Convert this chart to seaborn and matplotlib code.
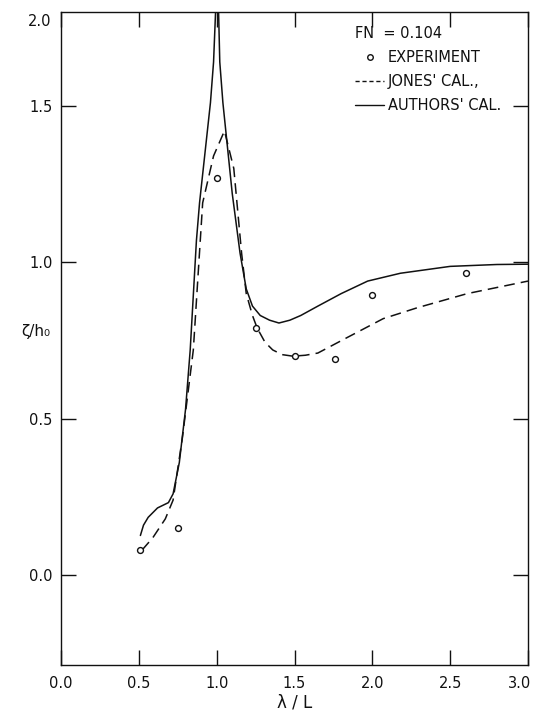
import matplotlib
matplotlib.use("Agg")
import matplotlib.pyplot as plt
import matplotlib.transforms as mtransforms
from matplotlib.lines import Line2D
import seaborn as sns

# Values (FN = 0.104)
# Authors' calculation (solid line)
authors_x = [0.51, 0.53, 0.56, 0.62, 0.69, 0.72, 0.76, 0.80, 0.83, 0.87, 0.89, 0.96, 0.98,
             1.005, 1.02, 1.04, 1.10, 1.15, 1.19, 1.23, 1.28, 1.34, 1.40, 1.47, 1.54, 1.65,
             1.80, 1.97, 2.18, 2.50, 2.80, 3.00]
authors_y = [0.127, 0.16, 0.185, 0.215, 0.232, 0.26, 0.36, 0.53, 0.72, 1.07, 1.19, 1.51,
             1.64, 1.95, 1.64, 1.51, 1.22, 1.03, 0.915, 0.86, 0.83, 0.815, 0.806, 0.815,
             0.83, 0.86, 0.90, 0.94, 0.965, 0.987, 0.993, 0.994]

# Jones' calculation (dashed line)
jones_x = [0.52, 0.59, 0.67, 0.72, 0.78, 0.85, 0.91, 0.98, 1.05, 1.11, 1.16, 1.19, 1.23,
           1.26, 1.31, 1.36, 1.42, 1.49, 1.57, 1.65, 1.84, 2.07, 2.29, 2.61, 3.00]
jones_y = [0.08, 0.12, 0.18, 0.24, 0.44, 0.72, 1.19, 1.34, 1.42, 1.30, 1.03, 0.90, 0.83,
           0.79, 0.745, 0.72, 0.705, 0.70, 0.703, 0.71, 0.76, 0.82, 0.855, 0.90, 0.94]

# Experiment
exp_x = [0.51, 0.75, 1.00, 1.25, 1.50, 1.76, 2.00, 2.60]
exp_y = [0.08, 0.15, 1.27, 0.79, 0.70, 0.69, 0.895, 0.965]

x_ticks = [0.0, 0.5, 1.0, 1.5, 2.0, 2.5, 3.0]
x_ticklabels = ['0.0', '0.5', '1.0', '1.5', '2.0', '2.5', '3.0']
y_ticks = [0.0, 0.5, 1.0, 1.5]
y_ticklabels = ['0.0', '0.5', '1.0', '1.5']

ink = '#111111'

sns.set_theme(style="ticks")
plt.rcParams['font.family'] = ['DejaVu Sans']
plt.rcParams['text.color'] = ink
plt.rcParams['axes.labelcolor'] = ink
plt.rcParams['xtick.color'] = ink
plt.rcParams['ytick.color'] = ink

fig = plt.figure(figsize=(5.38, 7.18), dpi=100)
ax = fig.add_axes([0.1134, 0.0738, 0.868, 0.9095])

sns.lineplot(x=authors_x, y=authors_y, sort=False, estimator=None, color=ink,
             linewidth=1.1, ax=ax)
sns.lineplot(x=jones_x, y=jones_y, sort=False, estimator=None, color=ink,
             linewidth=1.1, linestyle=(0, (7, 4)), ax=ax)
sns.scatterplot(x=exp_x, y=exp_y, marker='o', s=18, facecolor='white',
                edgecolor=ink, linewidth=1.0, ax=ax, zorder=5)

ax.set_xlim(0.0, 3.0)
ax.set_ylim(-0.287, 1.80)
ax.set_xticks(x_ticks)
ax.set_xticklabels(x_ticklabels)
ax.set_yticks(y_ticks)
ax.set_yticklabels(y_ticklabels)
ax.tick_params(direction='in', length=11, width=1, top=True, right=True, labelsize=10.5)
ax.tick_params(axis='x', pad=8)
ax.tick_params(axis='y', pad=6)
# last x label sits tight against the page edge in the scan
last = ax.get_xticklabels()[-1]
last.set_transform(last.get_transform() +
                   mtransforms.ScaledTranslation(-6 / 72, 0, fig.dpi_scale_trans))
# top-left corner label of the scan
ax.text(-0.02, 0.985, '2.0', transform=ax.transAxes, ha='right', va='center', fontsize=10.5)

for side in ax.spines.values():
    side.set_color(ink)
    side.set_linewidth(1.0)

ax.set_xlabel('λ / L', fontsize=12, labelpad=2)
ax.set_ylabel('ζ/h₀', fontsize=11, rotation=0)
ax.yaxis.set_label_coords(-0.055, 0.50)

handles = [
    Line2D([], [], linestyle='none', marker='o', markersize=4, markerfacecolor='white',
           markeredgecolor=ink),
    Line2D([], [], color=ink, linewidth=1.0, linestyle=(0, (3, 2))),
    Line2D([], [], color=ink, linewidth=1.0),
]
labels = ['EXPERIMENT', "JONES' CAL.,", "AUTHORS' CAL."]
leg = ax.legend(handles, labels, title='FN  = 0.104', loc='upper left',
                bbox_to_anchor=(0.63, 0.978), frameon=False, fontsize=10.5,
                title_fontsize=10.5, handlelength=2.0, handletextpad=0.25,
                borderaxespad=0, borderpad=0, labelspacing=0.6, alignment='left')

fig.savefig('out.png', dpi=100, facecolor='white')
